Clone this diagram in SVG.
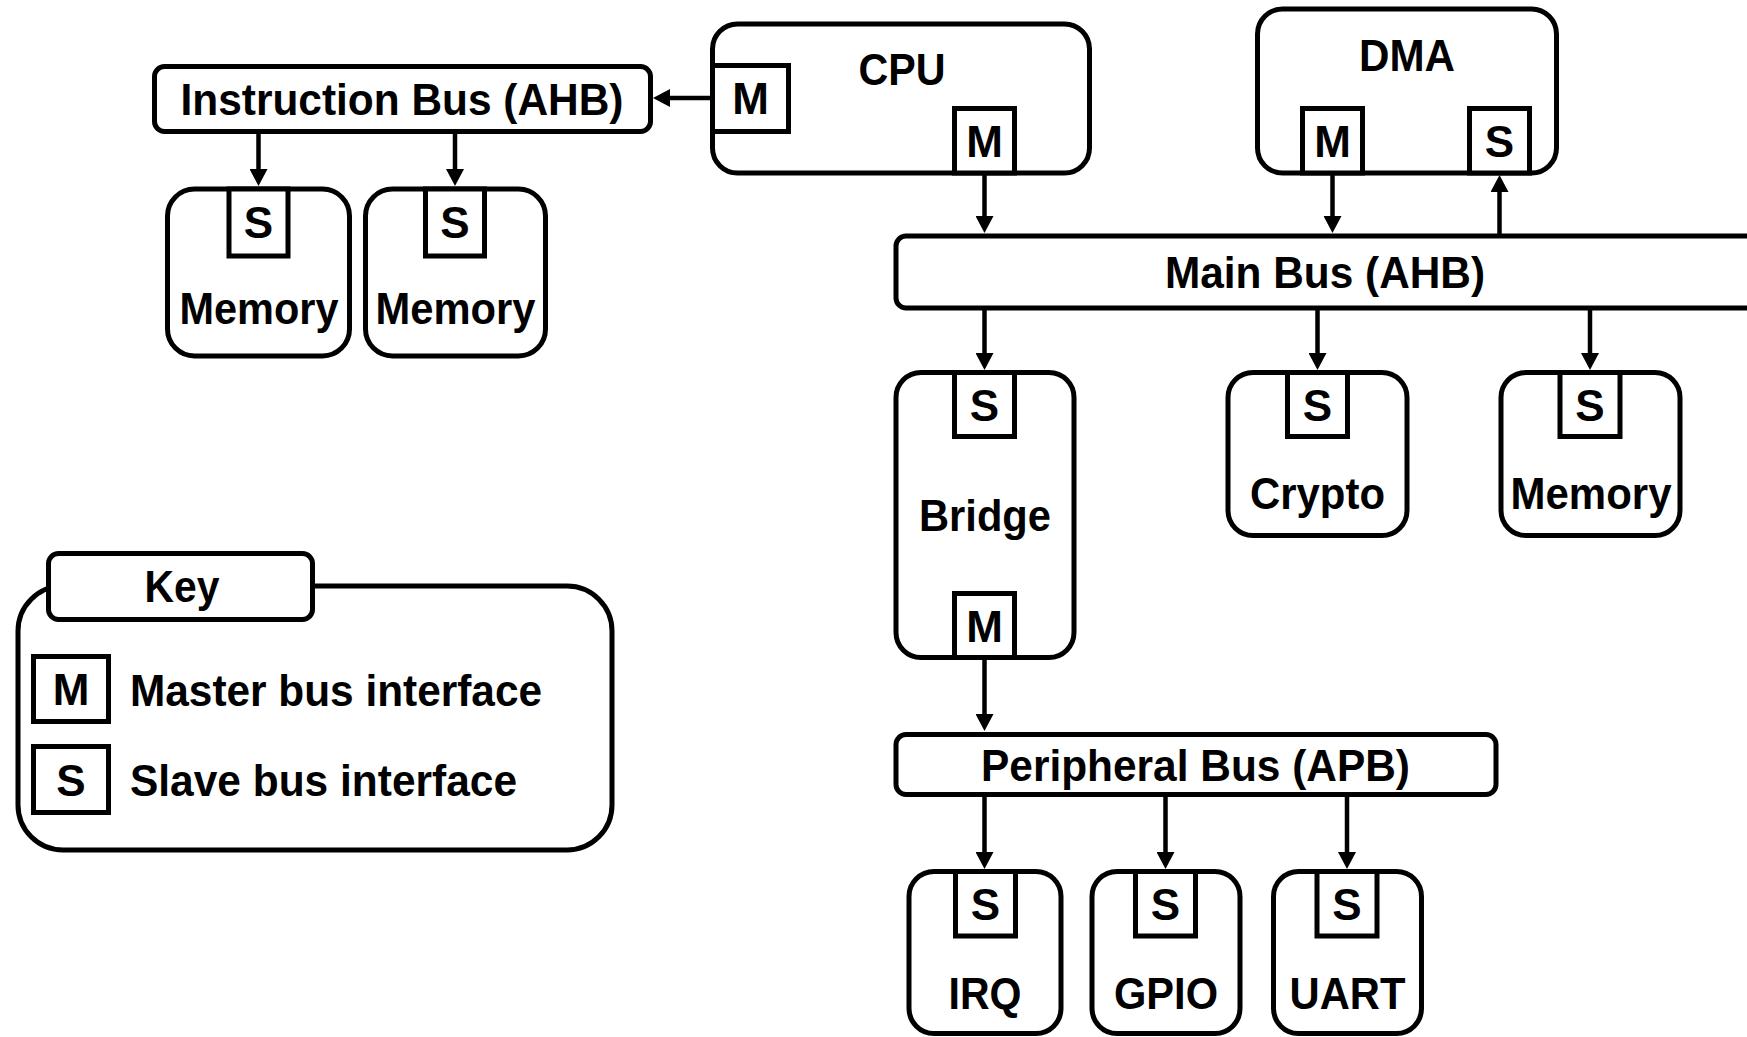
<svg xmlns="http://www.w3.org/2000/svg" width="1747" height="1037" viewBox="0 0 1747 1037">
<style>
  .box{fill:#fff;stroke:#000;stroke-width:5}
  .port{fill:#fff;stroke:#000;stroke-width:5}
  .t{font-family:"Liberation Sans",Arial,sans-serif;font-weight:bold;font-size:45px;fill:#000;text-anchor:middle}
  .p{font-family:"Liberation Sans",Arial,sans-serif;font-weight:bold;font-size:44px;fill:#000;text-anchor:middle}
  .tl{font-family:"Liberation Sans",Arial,sans-serif;font-weight:bold;font-size:45px;fill:#000;text-anchor:start}
  .c{stroke:#000;stroke-width:4.5;fill:none;marker-end:url(#arr)}
</style>
<defs>
  <marker id="arr" markerUnits="userSpaceOnUse" markerWidth="17" markerHeight="18" refX="7" refY="9" orient="auto">
    <path d="M0,0 L17,9 L0,18 z" fill="#000"/>
  </marker>
</defs>
<rect width="1747" height="1037" fill="#fff"/>

<g id="connectors">
  <line class="c" x1="712" y1="98" x2="663" y2="98"/>
  <line class="c" x1="258.5" y1="134" x2="258.5" y2="176"/>
  <line class="c" x1="455" y1="134" x2="455" y2="176"/>
  <line class="c" x1="984.5" y1="175" x2="984.5" y2="223"/>
  <line class="c" x1="1332.5" y1="175" x2="1332.5" y2="223"/>
  <line class="c" x1="1499.5" y1="235" x2="1499.5" y2="185"/>
  <line class="c" x1="984.5" y1="310" x2="984.5" y2="360"/>
  <line class="c" x1="1317.5" y1="310" x2="1317.5" y2="360"/>
  <line class="c" x1="1590" y1="310" x2="1590" y2="360"/>
  <line class="c" x1="984.5" y1="660" x2="984.5" y2="721"/>
  <line class="c" x1="984.5" y1="797" x2="984.5" y2="859"/>
  <line class="c" x1="1165.5" y1="797" x2="1165.5" y2="859"/>
  <line class="c" x1="1347" y1="797" x2="1347" y2="859"/>
</g>

<g id="instruction-bus">
  <rect class="box" x="154.5" y="66.5" width="496" height="65" rx="10"/>
  <text class="t" x="402" y="115" textLength="443" lengthAdjust="spacingAndGlyphs">Instruction Bus (AHB)</text>
</g>

<g id="memory-1">
  <rect class="box" x="167.5" y="189" width="182" height="167" rx="27"/>
  <rect class="port" x="229" y="189" width="59" height="67"/>
  <text class="p" x="258.5" y="238">S</text>
  <text class="t" x="259" y="324" textLength="159" lengthAdjust="spacingAndGlyphs">Memory</text>
</g>

<g id="memory-2">
  <rect class="box" x="365.5" y="189" width="180" height="167" rx="27"/>
  <rect class="port" x="425.5" y="189" width="59" height="67"/>
  <text class="p" x="455" y="238">S</text>
  <text class="t" x="455.5" y="324" textLength="160" lengthAdjust="spacingAndGlyphs">Memory</text>
</g>

<g id="cpu">
  <rect class="box" x="712.5" y="24" width="377" height="149" rx="25"/>
  <text class="t" x="902" y="85" textLength="87" lengthAdjust="spacingAndGlyphs">CPU</text>
  <rect class="port" x="712.5" y="65.5" width="76" height="66"/>
  <text class="p" x="750.5" y="114">M</text>
  <rect class="port" x="954.5" y="108.5" width="60" height="64.5"/>
  <text class="p" x="984.5" y="157">M</text>
</g>

<g id="dma">
  <rect class="box" x="1257.5" y="9" width="299" height="164" rx="25"/>
  <text class="t" x="1407" y="71" textLength="96" lengthAdjust="spacingAndGlyphs">DMA</text>
  <rect class="port" x="1302.5" y="108.5" width="60" height="64.5"/>
  <text class="p" x="1332.5" y="157">M</text>
  <rect class="port" x="1469.5" y="108.5" width="60" height="64.5"/>
  <text class="p" x="1499.5" y="157">S</text>
</g>

<g id="main-bus">
  <rect class="box" x="896" y="236" width="900" height="72" rx="10"/>
  <text class="t" x="1325" y="288" textLength="320" lengthAdjust="spacingAndGlyphs">Main Bus (AHB)</text>
</g>

<g id="bridge">
  <rect class="box" x="896" y="372.5" width="178" height="285" rx="25"/>
  <rect class="port" x="954.5" y="372.5" width="60" height="64"/>
  <text class="p" x="984.5" y="421">S</text>
  <text class="t" x="985" y="531" textLength="132" lengthAdjust="spacingAndGlyphs">Bridge</text>
  <rect class="port" x="954.5" y="593.5" width="60" height="64"/>
  <text class="p" x="984.5" y="642">M</text>
</g>

<g id="crypto">
  <rect class="box" x="1228" y="372.5" width="179" height="163" rx="25"/>
  <rect class="port" x="1287.5" y="372.5" width="60" height="64"/>
  <text class="p" x="1317.5" y="421">S</text>
  <text class="t" x="1317.5" y="509" textLength="135" lengthAdjust="spacingAndGlyphs">Crypto</text>
</g>

<g id="memory-3">
  <rect class="box" x="1501" y="372.5" width="179" height="163" rx="25"/>
  <rect class="port" x="1560" y="372.5" width="60" height="64"/>
  <text class="p" x="1590" y="421">S</text>
  <text class="t" x="1591" y="509" textLength="161" lengthAdjust="spacingAndGlyphs">Memory</text>
</g>

<g id="peripheral-bus">
  <rect class="box" x="896" y="734.5" width="600" height="60" rx="10"/>
  <text class="t" x="1195.5" y="781" textLength="429" lengthAdjust="spacingAndGlyphs">Peripheral Bus (APB)</text>
</g>

<g id="irq">
  <rect class="box" x="909" y="871.5" width="152" height="162" rx="25"/>
  <rect class="port" x="955.5" y="871.5" width="60" height="64.5"/>
  <text class="p" x="985.5" y="920">S</text>
  <text class="t" x="985" y="1009" textLength="73" lengthAdjust="spacingAndGlyphs">IRQ</text>
</g>

<g id="gpio">
  <rect class="box" x="1092" y="871.5" width="148" height="162" rx="25"/>
  <rect class="port" x="1135.5" y="871.5" width="60" height="64.5"/>
  <text class="p" x="1165.5" y="920">S</text>
  <text class="t" x="1166" y="1009" textLength="104" lengthAdjust="spacingAndGlyphs">GPIO</text>
</g>

<g id="uart">
  <rect class="box" x="1273.5" y="871.5" width="148" height="162" rx="25"/>
  <rect class="port" x="1317" y="871.5" width="60" height="64.5"/>
  <text class="p" x="1347" y="920">S</text>
  <text class="t" x="1347.5" y="1009" textLength="116" lengthAdjust="spacingAndGlyphs">UART</text>
</g>

<g id="key">
  <rect class="box" x="18" y="586" width="594" height="264" rx="45"/>
  <rect class="box" x="48.5" y="553.5" width="264" height="66" rx="10"/>
  <text class="t" x="182" y="602" textLength="75" lengthAdjust="spacingAndGlyphs">Key</text>
  <rect class="port" x="33.5" y="656.5" width="75" height="65"/>
  <text class="p" x="71" y="705">M</text>
  <text class="tl" x="130" y="706" textLength="412" lengthAdjust="spacingAndGlyphs">Master bus interface</text>
  <rect class="port" x="33.5" y="746.5" width="75" height="66"/>
  <text class="p" x="71" y="796">S</text>
  <text class="tl" x="130" y="796" textLength="387" lengthAdjust="spacingAndGlyphs">Slave bus interface</text>
</g>
</svg>
